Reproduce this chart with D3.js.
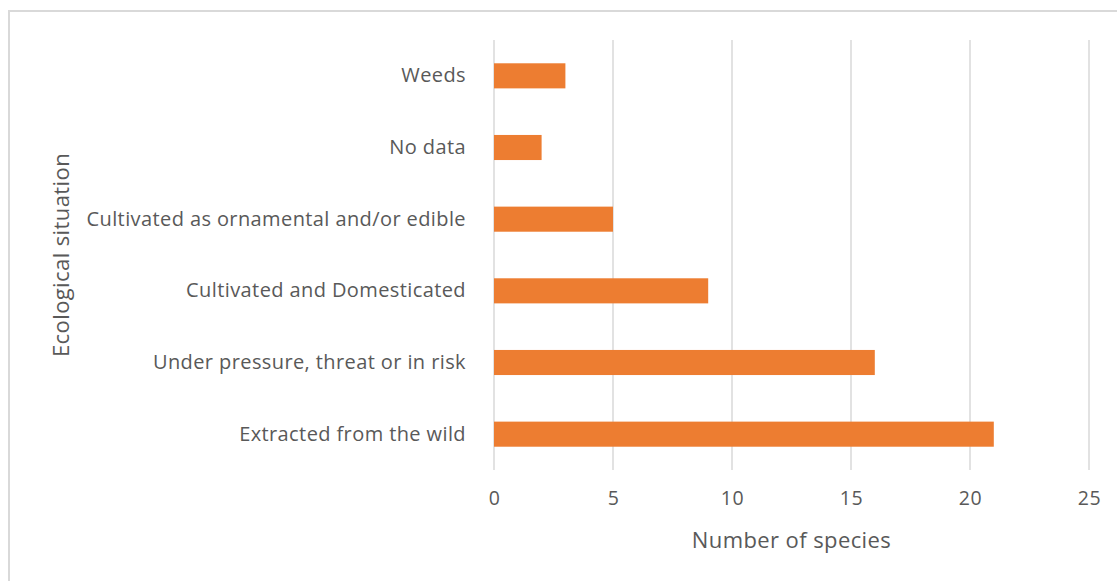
<!DOCTYPE html>
<html>
<head>
<meta charset="utf-8">
<script src="https://cdnjs.cloudflare.com/ajax/libs/d3/7.8.5/d3.min.js"></script>
<style>
    body { margin: 0; background: #fff; }
    text { font-family: "Open Sans", Lato, sans-serif; fill: #595959; }
    .grid line { stroke: #d9d9d9; stroke-width: 1.5; }
</style>
</head>
<body>
<div id="vis"></div>
<script>
// values, top to bottom
var categories = ['Weeds', 'No data', 'Cultivated as ornamental and/or edible',
    'Cultivated and Domesticated', 'Under pressure, threat or in risk', 'Extracted from the wild'];
var species = [3, 2, 5, 9, 16, 21];
var xTicks = [0, 5, 10, 15, 20, 25];

var width = 1117;
var height = 581;
var margin = { left: 494, right: 28, top: 40, bottom: 111 };
var drawWidth = width - margin.left - margin.right;
var drawHeight = height - margin.top - margin.bottom;

var svg = d3.select('#vis')
    .append('svg')
    .attr('width', width)
    .attr('height', height);

// outer chart border (runs off the right and bottom edge)
svg.append('rect')
    .attr('x', 9)
    .attr('y', 11)
    .attr('width', width)
    .attr('height', height)
    .attr('fill', 'none')
    .attr('stroke', '#d9d9d9')
    .attr('stroke-width', 2);

var g = svg.append('g')
    .attr('transform', 'translate(' + margin.left + ',' + margin.top + ')');

var xScale = d3.scaleLinear().domain([0, 25]).range([0, drawWidth]);
var yScale = d3.scaleBand()
    .domain(categories)
    .range([0, drawHeight])
    .paddingInner(0.65)
    .paddingOuter(0.325);

// vertical gridlines
g.append('g')
    .attr('class', 'grid')
    .selectAll('line')
    .data(xTicks)
    .enter().append('line')
    .attr('x1', d => xScale(d))
    .attr('x2', d => xScale(d))
    .attr('y1', 0)
    .attr('y2', drawHeight);

var xAxis = d3.axisBottom(xScale).tickValues(xTicks).tickSize(0).tickPadding(21);
var xAxisG = g.append('g')
    .attr('transform', 'translate(0,' + drawHeight + ')')
    .call(xAxis);
xAxisG.select('.domain').remove();
xAxisG.selectAll('text')
    .style('font-size', '19.5px')
    .style('letter-spacing', '0.5px')
    .attr('fill', '#595959');

var yAxis = d3.axisLeft(yScale).tickSize(0).tickPadding(28);
var yAxisG = g.append('g').call(yAxis);
yAxisG.select('.domain').remove();
yAxisG.selectAll('text')
    .style('font-size', '20px')
    .style('letter-spacing', '0.4px')
    .attr('fill', '#595959');

var data = categories.map((c, i) => ({ name: c, value: species[i] }));

g.selectAll('rect.bar')
    .data(data)
    .enter().append('rect')
    .attr('class', 'bar')
    .attr('x', 0)
    .attr('y', d => yScale(d.name))
    .attr('width', d => xScale(d.value))
    .attr('height', yScale.bandwidth())
    .attr('fill', '#ed7d31');

svg.append('text')
    .attr('transform', 'translate(' + (margin.left + drawWidth / 2) + ',' + 548 + ')')
    .attr('text-anchor', 'middle')
    .style('font-size', '22px')
    .style('letter-spacing', '0.4px')
    .text('Number of species');

svg.append('text')
    .attr('transform', 'translate(' + 69 + ',' + (margin.top + drawHeight / 2) + ') rotate(-90)')
    .attr('text-anchor', 'middle')
    .style('font-size', '22px')
    .style('letter-spacing', '0.4px')
    .text('Ecological situation');
</script>
</body>
</html>
